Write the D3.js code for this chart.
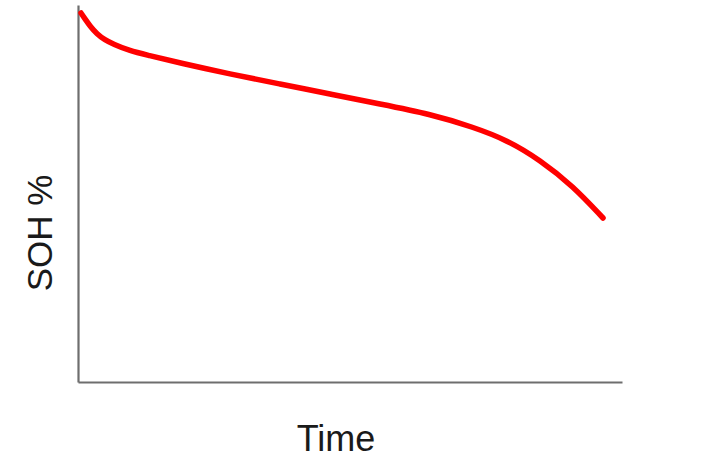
<!DOCTYPE html>
<html>
<head>
<meta charset="utf-8">
<script src="https://cdn.jsdelivr.net/npm/d3@7"></script>
<style>
html,body{margin:0;padding:0;background:#fff;}
svg{display:block;}
</style>
</head>
<body>
<svg id="chart" width="702" height="459"></svg>
<script>
const timeValues = [0.55, 1.29, 2.21, 3.49, 4.96, 6.43, 9.56, 12.68, 18.75, 27.94, 37.13, 46.32, 55.51, 64.71, 72.61, 78.86, 84.93, 90.99, 96.51];
const sohValues  = [97.88, 96.29, 94.43, 92.31, 90.72, 89.66, 87.80, 86.74, 84.62, 81.70, 79.05, 76.39, 73.74, 71.09, 67.64, 64.19, 58.89, 52.00, 43.50];
const xLabel = "Time";
const yLabel = "SOH %";

const svg = d3.select("#chart");
const margin = {left: 78, top: 5, right: 80, bottom: 77};
const W = 702, H = 459;
const x = d3.scaleLinear().domain([0, 100]).range([margin.left, W - margin.right]);
const y = d3.scaleLinear().domain([0, 100]).range([H - margin.bottom, margin.top]);

const data = timeValues.map((t, i) => ({t, v: sohValues[i]}));

// axes (no ticks)
svg.append("g")
  .attr("transform", `translate(0,${y(0)})`)
  .call(d3.axisBottom(x).tickValues([]).tickSizeOuter(0))
  .call(g => g.select(".domain").attr("stroke", "#6e6e6e").attr("stroke-width", 2.2));
svg.append("g")
  .attr("transform", `translate(${x(0)},0)`)
  .call(d3.axisLeft(y).tickValues([]).tickSizeOuter(0))
  .call(g => g.select(".domain").attr("stroke", "#6e6e6e").attr("stroke-width", 2.2));

const line = d3.line().x(d => x(d.t)).y(d => y(d.v)).curve(d3.curveBasis);
svg.append("path").datum(data)
  .attr("fill", "none")
  .attr("stroke", "#ff0000")
  .attr("stroke-width", 5.5)
  .attr("stroke-linecap", "round")
  .attr("stroke-linejoin", "round")
  .attr("d", line);

svg.append("text")
  .attr("x", 336).attr("y", 451)
  .attr("text-anchor", "middle")
  .attr("font-family", "Liberation Sans, Arial, sans-serif")
  .attr("font-size", 36)
  .attr("fill", "#1a1a1a")
  .text(xLabel);

svg.append("text")
  .attr("transform", "translate(52,233) rotate(-90)")
  .attr("text-anchor", "middle")
  .attr("font-family", "Liberation Sans, Arial, sans-serif")
  .attr("font-size", 35)
  .attr("fill", "#1a1a1a")
  .text(yLabel);
</script>
</body>
</html>
